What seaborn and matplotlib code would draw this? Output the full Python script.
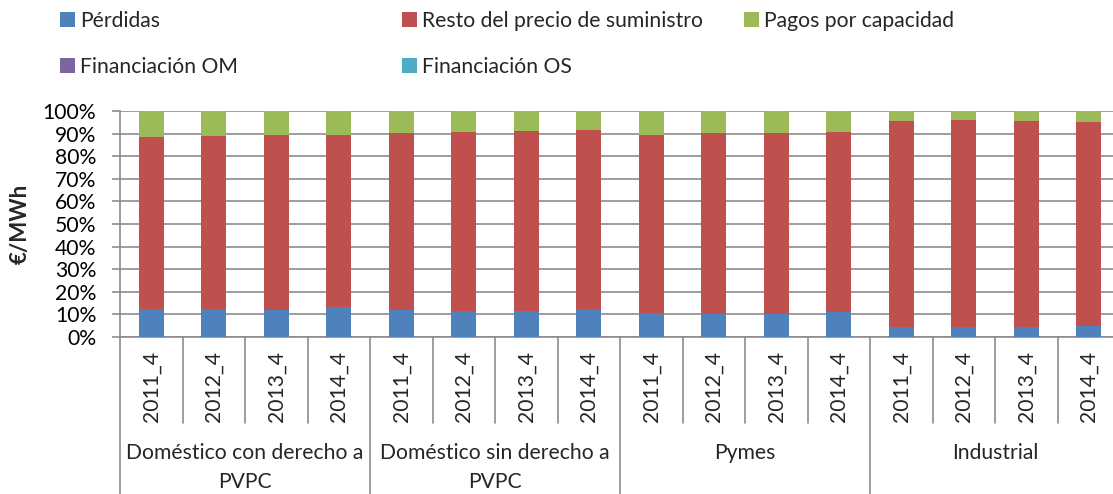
import numpy as np
import pandas as pd
import seaborn as sns
import matplotlib
matplotlib.use("Agg")
import matplotlib.pyplot as plt
from matplotlib.patches import Patch
from matplotlib.transforms import blended_transform_factory

# ---------------- data ----------------
groups = ["Doméstico con derecho a\nPVPC", "Doméstico sin derecho a\nPVPC", "Pymes", "Industrial"]
periods = ["2011_4", "2012_4", "2013_4", "2014_4"]

perdidas = [12.4, 12.4, 12.1, 13.1, 11.9, 11.6, 11.6, 12.5, 10.5, 10.3, 10.0, 11.2, 4.4, 4.4, 4.4, 4.9]
resto = [76.3, 76.7, 77.1, 76.4, 78.2, 79.3, 79.7, 79.1, 79.0, 79.8, 80.4, 79.7, 91.3, 91.8, 91.3, 90.1]
pagos = [11.1, 10.7, 10.6, 10.3, 9.7, 8.9, 8.5, 8.2, 10.3, 9.7, 9.4, 8.9, 4.1, 3.6, 4.1, 4.8]
fin_om = [0.05] * 16
fin_os = [0.15] * 16

series_names = ["Pérdidas", "Resto del precio de suministro", "Pagos por capacidad",
                "Financiación OM", "Financiación OS"]
colors = ["#4F81BD", "#C0504D", "#9BBB59", "#8064A2", "#4BACC6"]

# ---------------- figure ----------------
sns.set_theme(style="white")
plt.rcParams["font.family"] = ["Lato", "DejaVu Sans"]
FS = 15.2
GRAY = "#8c8c8c"

W, H = 1113, 494
fig = plt.figure(figsize=(W / 100, H / 100), dpi=100)
ax = fig.add_axes([120 / W, (H - 337) / H, 1000 / W, 226 / H])

rows = []
for gi, g in enumerate(groups):
    for pi, p in enumerate(periods):
        rows.append(dict(slot=f"{gi}-{pi}", group=g, period=p))
df = pd.DataFrame(rows)
order = list(df["slot"])

vals = np.array([perdidas, resto, pagos, fin_om, fin_os])
cum = np.cumsum(vals, axis=0)
for i in range(4, -1, -1):
    d = df.copy()
    d["v"] = cum[i]
    sns.barplot(data=d, x="slot", y="v", order=order, color=colors[i], width=0.4,
                saturation=1, errorbar=None, ax=ax, linewidth=0, zorder=3)

ax.set_xlim(-0.5, 15.5)
ax.set_ylim(0, 100)
ax.set_yticks(range(0, 101, 10))
ax.set_yticklabels([f"{v}%" for v in range(0, 101, 10)], fontsize=FS)
ax.set_xticks([])
ax.set_xlabel("")
ax.set_ylabel("€/MWh", fontweight="bold", fontsize=16)
ax.yaxis.set_label_coords(-0.089, 0.5)
ax.grid(axis="y", color=GRAY, lw=1.2, zorder=0)
ax.set_axisbelow(True)
for s in ["top", "right"]:
    ax.spines[s].set_visible(False)
for s in ["left", "bottom"]:
    ax.spines[s].set_color(GRAY)
    ax.spines[s].set_linewidth(1.2)
ax.tick_params(axis="y", length=6, width=1.2, color=GRAY, pad=11, left=True, labelcolor="black")

# ---------------- multi-level x axis ----------------
trans = blended_transform_factory(ax.transData, fig.transFigure)
def fy(px):
    return 1 - px / H

for k in range(16):
    gi, pi = divmod(k, 4)
    ax.text(k, fy(386), periods[pi], rotation=90, ha="center", va="center",
            fontsize=FS, transform=trans)
for b in range(17):
    x = b - 0.5
    y1 = 494 if b % 4 == 0 else 423
    ax.plot([x, x], [fy(337), fy(y1)], color=GRAY, lw=1.2, transform=trans, clip_on=False)
for gi, g in enumerate(groups):
    lines = g.split("\n")
    xc = gi * 4 + 1.5
    for li, line in enumerate(lines):
        ax.text(xc, fy(453 + 29 * li), line, ha="center", va="center", fontsize=FS,
                transform=trans)

# ---------------- legend ----------------
legend_pos = [(60, 21), (402, 21), (744, 21), (60, 67), (402, 67)]
for name, col, (lx, ly) in zip(series_names, colors, legend_pos):
    fig.legend(handles=[Patch(facecolor=col, edgecolor="none")], labels=[name],
               loc="center left", bbox_to_anchor=(lx / W, fy(ly)), frameon=False,
               handlelength=0.7, handleheight=0.7, handletextpad=0.25,
               borderpad=0, borderaxespad=0, fontsize=FS)

fig.savefig("out.png", dpi=100)
